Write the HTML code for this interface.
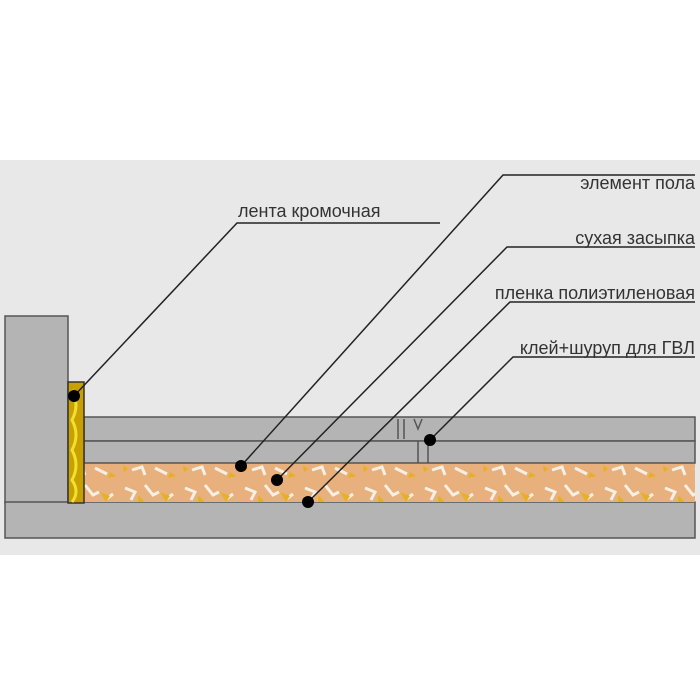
<!DOCTYPE html>
<html><head><meta charset="utf-8"><style>
html,body{margin:0;padding:0;background:#fff}
svg{display:block}
text{font-family:"Liberation Sans","DejaVu Sans",sans-serif;font-size:18px;fill:#333}
</style></head><body>
<svg width="700" height="700" viewBox="0 0 700 700">
<defs>
<pattern id="fill" width="60" height="40" patternUnits="userSpaceOnUse">
<rect width="60" height="40" fill="#e8b07c"/>
<path d="M5 8 l10 4 l-4 8 M25 5 l8 10 l6 -3 M45 20 l8 -6 M12 30 l10 -3 l3 8 M35 28 l12 6" stroke="#f6f0e4" stroke-width="3" fill="none"/>
<path d="M18 15 l6 6 l-6 4 z M40 12 l10 4 l-4 6 z M50 32 l6 4 l-8 2z M3 25 l5 4 l-4 3z" fill="#e8b020"/>
</pattern>
</defs>
<rect x="0" y="160" width="700" height="395" fill="#e8e8e8"/>
<rect x="5" y="316" width="63" height="187" fill="#b4b4b4" stroke="#555" stroke-width="1.5"/>
<rect x="5" y="502" width="690" height="36" fill="#b4b4b4" stroke="#555" stroke-width="1.5"/>
<rect x="84" y="463" width="611" height="39" fill="url(#fill)"/>
<rect x="84" y="417" width="611" height="24" fill="#b4b4b4" stroke="#555" stroke-width="1.5"/>
<rect x="84" y="441" width="611" height="22" fill="#b4b4b4" stroke="#555" stroke-width="1.5"/>
<rect x="68" y="382" width="16" height="121" fill="#c8a000" stroke="#333" stroke-width="1.5"/>
<path d="M72 390 q8 15 0 30 q8 15 0 30 q8 15 0 30 q8 12 0 22" stroke="#f0e030" stroke-width="3" fill="none"/>
<path d="M398 419 v20 M404 419 v20 M414 419 l4 10 l4 -10 M418 441 v22 M428 441 v22" stroke="#555" stroke-width="1.5" fill="none"/>
<g stroke="#222" stroke-width="1.5" fill="none">
<path d="M74 396 L237 223 L440 223"/>
<path d="M241 466 L503 175 L695 175"/>
<path d="M277 480 L507 247 L695 247"/>
<path d="M308 502 L510 302 L695 302"/>
<path d="M430 440 L513 357 L695 357"/>
</g>
<g fill="#000">
<circle cx="74" cy="396" r="6"/>
<circle cx="241" cy="466" r="6"/>
<circle cx="277" cy="480" r="6"/>
<circle cx="308" cy="502" r="6"/>
<circle cx="430" cy="440" r="6"/>
</g>
<text x="238" y="217">лента кромочная</text>
<g text-anchor="end">
<text x="695" y="189">элемент пола</text>
<text x="695" y="244">сухая засыпка</text>
<text x="695" y="299">пленка полиэтиленовая</text>
<text x="695" y="354">клей+шуруп для ГВЛ</text>
</g>
</svg>
</body></html>
